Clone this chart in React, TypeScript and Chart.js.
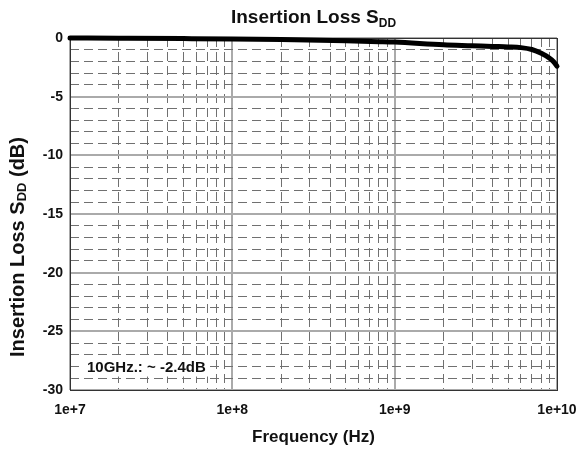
import React, { useEffect, useRef } from 'react';
import { Chart, registerables } from 'chart.js';

Chart.register(...registerables);

// ---- data ----
const freqHz = [1e7, 2e7, 5e7, 1e8, 2e8, 5e8, 8e8, 1e9, 2e9, 3e9, 4e9, 5e9, 6e9, 7e9, 8e9, 9e9, 9.5e9, 1e10];
const lossDb = [0, -0.02, -0.05, -0.08, -0.13, -0.24, -0.31, -0.35, -0.58, -0.66, -0.72, -0.76, -0.82, -0.98, -1.3, -1.72, -2.0, -2.4];

const xDecades = [1e7, 1e8, 1e9, 1e10];
const xMultipliers = [1, 2, 3, 4, 5, 6, 7, 8, 9];
const xTickLabels = ['1e+7', '1e+8', '1e+9', '1e+10'];
const yMin = -30;
const yMax = 0;
const yMinorStep = 1;
const yLabelValues = [0, -5, -10, -15, -20, -25, -30];

const titleMain = 'Insertion Loss S';
const titleSub = 'DD';
const yTitleMain = 'Insertion Loss S';
const yTitleSub = 'DD';
const yTitleTail = ' (dB)';
const xTitle = 'Frequency (Hz)';
const annotationText = '10GHz.: ~ -2.4dB';
const annotationAt = { x: 1e7, y: -28 };

const FONT = '"Liberation Sans", Arial, Helvetica, sans-serif';

const isMajorX = (v: number) => xDecades.some((d) => Math.abs(v - d) / d < 1e-6);
const isMajorY = (v: number) => Math.abs(v % 5) < 1e-9;

function drawRich(
  ctx: CanvasRenderingContext2D,
  parts: { text: string; size: number; dy: number }[],
  x: number,
  y: number
) {
  const widths = parts.map((p) => {
    ctx.font = `bold ${p.size}px ${FONT}`;
    return ctx.measureText(p.text).width;
  });
  const total = widths.reduce((a, b) => a + b, 0);
  let cx = x - total / 2;
  parts.forEach((p, i) => {
    ctx.font = `bold ${p.size}px ${FONT}`;
    ctx.fillText(p.text, cx, y + p.dy);
    cx += widths[i];
  });
}

const overlayPlugin = {
  id: 'overlay',
  beforeDatasetsDraw(chart: any) {
    const { ctx, chartArea } = chart;
    ctx.save();
    ctx.strokeStyle = '#333';
    ctx.lineWidth = 1;
    ctx.strokeRect(
      Math.round(chartArea.left) + 0.5,
      Math.round(chartArea.top) + 0.5,
      Math.round(chartArea.right - chartArea.left),
      Math.round(chartArea.bottom - chartArea.top)
    );
    // annotation box
    const xs = chart.scales.x;
    const ys = chart.scales.y;
    const ax = xs.getPixelForValue(annotationAt.x) + 17;
    const ay = ys.getPixelForValue(annotationAt.y);
    ctx.font = `bold 15px ${FONT}`;
    const w = ctx.measureText(annotationText).width;
    ctx.fillStyle = '#fff';
    ctx.fillRect(ax - 4, ay - 9, w + 8, 19);
    ctx.fillStyle = '#111';
    ctx.textAlign = 'left';
    ctx.textBaseline = 'middle';
    ctx.fillText(annotationText, ax, ay + 1);
    ctx.restore();
  },
  afterDraw(chart: any) {
    const { ctx, chartArea } = chart;
    const cx = (chartArea.left + chartArea.right) / 2;
    ctx.save();
    ctx.fillStyle = '#111';
    ctx.textAlign = 'left';
    ctx.textBaseline = 'alphabetic';
    drawRich(
      ctx,
      [
        { text: titleMain, size: 19, dy: 0 },
        { text: titleSub, size: 12, dy: 4 },
      ],
      cx,
      23
    );
    // x title
    ctx.textBaseline = 'middle';
    drawRich(ctx, [{ text: xTitle, size: 17, dy: 0 }], cx, 437);
    // y title
    ctx.translate(18.5, 247);
    ctx.rotate(-Math.PI / 2);
    ctx.textBaseline = 'middle';
    drawRich(
      ctx,
      [
        { text: yTitleMain, size: 20, dy: 0 },
        { text: yTitleSub, size: 13, dy: 4 },
        { text: yTitleTail, size: 20, dy: 0 },
      ],
      0,
      0
    );
    ctx.restore();
  },
};

export default function App() {
  const canvasRef = useRef<HTMLCanvasElement | null>(null);

  useEffect(() => {
    const canvas = canvasRef.current;
    if (!canvas) return;
    const chart = new Chart(canvas, {
      type: 'line',
      data: {
        datasets: [
          {
            data: freqHz.map((f, i) => ({ x: f, y: lossDb[i] })),
            borderColor: '#000',
            borderWidth: 5,
            borderCapStyle: 'round',
            borderJoinStyle: 'round',
            pointRadius: 0,
            cubicInterpolationMode: 'monotone',
            clip: false,
            fill: false,
          } as any,
        ],
      },
      options: {
        animation: false,
        responsive: false,
        devicePixelRatio: 1,
        layout: { padding: { top: 38, right: 22, left: 0, bottom: 0 } },
        plugins: {
          legend: { display: false },
          title: { display: false },
          tooltip: { enabled: false },
        },
        scales: {
          x: {
            type: 'logarithmic',
            min: xDecades[0],
            max: xDecades[xDecades.length - 1],
            afterBuildTicks: (scale: any) => {
              const t: any[] = [];
              xDecades.forEach((d, di) => {
                xMultipliers.forEach((m) => {
                  if (di < xDecades.length - 1 || m === 1) t.push({ value: d * m, major: m === 1 });
                });
              });
              scale.ticks = t;
            },
            afterFit: (scale: any) => {
              scale.height = 63;
              scale.paddingLeft = 0;
              scale.paddingRight = 0;
            },
            ticks: {
              autoSkip: false,
              maxRotation: 0,
              padding: 12,
              color: '#111',
              font: { family: FONT, size: 14, weight: 'bold' },
              callback: (v: any) => {
                const i = xDecades.findIndex((d) => Math.abs(Number(v) - d) / d < 1e-6);
                return i >= 0 ? xTickLabels[i] : '';
              },
            },
            grid: {
              drawTicks: false,
              color: (c: any) => (c.tick && isMajorX(c.tick.value) ? '#aaaaaa' : '#707070'),
              lineWidth: (c: any) => (c.tick && isMajorX(c.tick.value) ? 2 : 1),
            },
            border: {
              display: false,
              dash: (c: any) => (c.tick && isMajorX(c.tick.value) ? [] : [9, 5]),
            },
          } as any,
          y: {
            type: 'linear',
            min: yMin,
            max: yMax,
            afterBuildTicks: (scale: any) => {
              const t: any[] = [];
              for (let v = yMax; v >= yMin; v -= yMinorStep) t.push({ value: v });
              scale.ticks = t.reverse();
            },
            afterFit: (scale: any) => {
              scale.width = 70;
              scale.paddingTop = 0;
              scale.paddingBottom = 0;
            },
            ticks: {
              autoSkip: false,
              padding: 7,
              color: '#111',
              font: { family: FONT, size: 14, weight: 'bold' },
              callback: (v: any) => (yLabelValues.includes(Number(v)) ? String(v) : ''),
            },
            grid: {
              drawTicks: false,
              color: (c: any) => (c.tick && isMajorY(c.tick.value) ? '#aaaaaa' : '#707070'),
              lineWidth: (c: any) => (c.tick && isMajorY(c.tick.value) ? 2 : 1),
            },
            border: {
              display: false,
              dash: (c: any) => (c.tick && isMajorY(c.tick.value) ? [] : [9, 5]),
            },
          } as any,
        },
      },
      plugins: [overlayPlugin as any],
    });
    return () => chart.destroy();
  }, []);

  return (
    <div style={{ position: 'fixed', left: 0, top: 0, width: 579, height: 453, background: '#fff' }}>
      <canvas ref={canvasRef} width={579} height={453} style={{ display: 'block', width: 579, height: 453 }} />
    </div>
  );
}
